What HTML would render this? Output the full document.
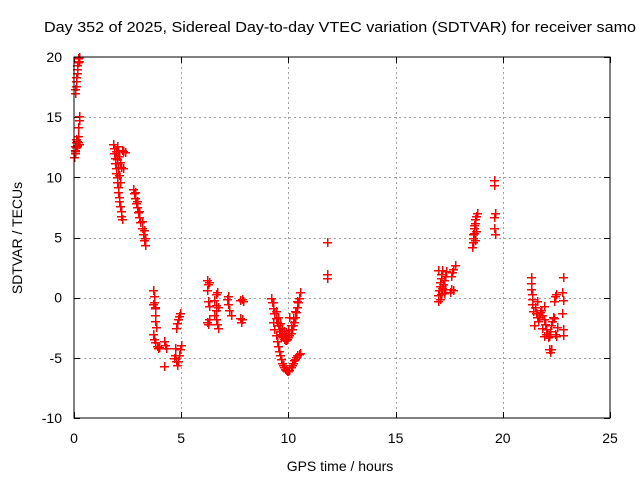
<!DOCTYPE html>
<html><head><meta charset="utf-8"><style>
body{margin:0;background:#fff;}
svg{display:block;font-family:"Liberation Sans",sans-serif;}
</style></head><body>
<svg id="c" width="640" height="480">
<text x="44" y="32" font-size="14.5" textLength="592" lengthAdjust="spacingAndGlyphs">Day 352 of 2025, Sidereal Day-to-day VTEC variation (SDTVAR) for receiver samo</text>
<text transform="translate(22,238) rotate(-90)" text-anchor="middle" font-size="14">SDTVAR / TECUs</text>
<text x="340" y="471" text-anchor="middle" font-size="14">GPS time / hours</text>
<g id="grid"></g><g id="ticks" stroke="#000"></g><g id="pts" fill="#ff0000"></g>
<rect x="74" y="57" width="536" height="361" fill="none" stroke="#000" stroke-width="1"/>
</svg>
<script>
const xTicks=[0,5,10,15,20,25];
const yTicks=[-10,-5,0,5,10,15,20];
const pts=[[0.02,11.7],[0.03,12.0],[0.04,12.3],[0.05,12.6],[0.06,12.2],[0.07,12.9],[0.08,13.2],[0.1,12.5],[0.12,12.7],[0.14,13.0],[0.15,12.6],[0.17,13.4],[0.18,12.9],[0.2,14.2],[0.22,14.8],[0.24,15.1],[0.25,12.8],
[0.03,17.0],[0.05,17.3],[0.07,17.6],[0.08,18.0],[0.1,18.3],[0.12,18.7],[0.14,19.0],[0.16,19.3],[0.18,19.6],[0.2,19.9],[0.22,19.7],[0.24,20.0],
[1.82,12.8],[1.85,12.4],[1.88,12.0],[1.9,11.6],[1.93,11.2],[1.95,10.8],[1.98,10.4],[2.0,10.0],[2.02,9.6],[2.05,9.2],[2.07,8.8],[2.1,8.4],[2.12,8.0],[2.15,7.6],[2.17,7.2],[2.2,6.8],[2.22,6.5],[2.0,12.6],[2.05,12.2],[2.1,11.8],[2.15,11.3],[2.2,10.9],[2.25,12.3],[2.3,12.2],[2.38,12.1],[2.3,10.8],[2.0,11.5],[2.05,10.8],[2.1,10.2],[2.15,9.6],[1.95,12.2],
[2.75,9.0],[2.8,8.7],[2.85,8.3],[2.9,7.9],[2.95,7.5],[3.0,7.1],[3.05,6.7],[3.1,6.3],[3.15,5.8],[3.2,5.3],[3.25,4.8],[3.3,4.4],[2.85,8.8],[2.95,8.0],[3.05,7.2],[3.15,6.4],[3.25,5.6],[3.3,5.0],
[3.7,0.6],[3.72,0.1],[3.74,-0.4],[3.76,-0.9],[3.78,-1.4],[3.8,-1.9],[3.82,-2.4],[3.7,-3.0],[3.75,-3.4],[3.8,-3.7],[3.85,-4.0],[3.9,-4.2],[3.95,-4.1],[4.2,-3.6],[4.25,-3.9],[4.28,-4.2],[4.2,-5.7],[4.75,-2.5],[4.8,-2.1],[4.85,-1.8],[4.9,-1.5],[4.95,-1.3],[4.7,-4.2],[4.72,-4.8],[4.75,-5.3],[4.8,-5.6],[4.85,-5.3],[4.9,-4.8],[4.95,-4.3],[5.0,-3.9],[4.68,-5.0],[3.68,-0.5],[3.8,-0.8],
[6.2,1.5],[6.25,1.1],[6.3,1.3],[6.2,0.6],[6.25,-0.3],[6.3,-0.7],[6.2,-2.0],[6.25,-2.2],[6.3,-1.8],[6.55,-0.2],[6.6,-0.6],[6.62,-1.0],[6.55,-1.4],[6.6,-1.8],[6.65,-2.2],[6.7,-2.5],[6.6,0.3],[6.65,0.5],[6.7,-0.8],[7.15,-0.1],[7.2,-0.5],[7.25,-1.0],[7.3,-1.4],[7.2,0.1],[7.75,-0.2],[7.85,-0.1],[7.9,-0.3],[7.75,-1.7],[7.8,-2.0],[7.85,-1.8],
[9.2,0.0],[9.25,-0.4],[9.3,-0.9],[9.35,-1.3],[9.4,-1.7],[9.45,-2.0],[9.5,-2.3],[9.55,-2.6],[9.6,-2.8],[9.65,-3.0],[9.7,-3.2],[9.75,-3.3],[9.8,-3.4],[9.85,-3.5],[9.9,-3.5],[9.95,-3.4],[10.0,-3.3],[10.05,-3.1],[10.1,-2.9],[10.15,-2.6],[10.2,-2.3],[10.25,-2.0],[10.3,-1.6],[10.35,-1.2],[10.4,-0.8],[10.45,-0.4],[10.5,0.0],[10.55,0.5],
[9.3,-0.4],[9.4,-1.1],[9.5,-1.6],[9.6,-2.1],[9.7,-2.5],[9.8,-2.8],[9.9,-2.9],[10.0,-2.7],[10.1,-2.3],[10.2,-1.7],[10.3,-1.1],[10.4,-0.3],[10.05,-1.6],
[9.3,-2.0],[9.35,-2.6],[9.4,-3.1],[9.45,-3.6],[9.5,-4.0],[9.55,-4.4],[9.6,-4.8],[9.65,-5.1],[9.7,-5.4],[9.75,-5.6],[9.8,-5.8],[9.85,-5.9],[9.9,-6.0],[9.95,-6.1],[10.0,-6.1],[10.05,-6.0],[10.1,-5.8],[10.15,-5.6],[10.2,-5.4],[10.25,-5.2],[10.3,-5.1],[10.35,-4.9],[10.4,-4.8],[10.5,-4.7],[10.55,-4.6],
[11.8,4.6],[11.8,2.0],[11.8,1.6],
[17.0,-0.3],[17.0,0.2],[17.02,0.6],[17.05,1.0],[17.08,1.3],[17.1,1.6],[17.12,2.0],[17.15,2.3],[17.05,-0.1],[17.1,0.3],[17.15,0.8],[17.2,1.1],[17.25,1.5],[17.3,1.8],[17.35,2.2],[17.25,0.4],[17.3,0.7],[17.0,2.3],[17.6,1.8],[17.65,2.1],[17.7,2.4],[17.75,2.7],[17.55,0.5],[17.6,0.7],[17.7,0.6],
[18.55,4.2],[18.6,4.6],[18.62,5.0],[18.65,5.4],[18.68,5.8],[18.7,6.2],[18.72,6.5],[18.75,6.8],[18.78,7.0],[18.6,5.3],[18.65,6.0],[18.7,4.8],[18.75,5.5],
[19.6,9.8],[19.6,9.4],[19.62,7.0],[19.6,6.7],[19.6,5.8],[19.62,5.3],
[21.3,1.7],[21.3,1.2],[21.32,0.7],[21.35,0.3],[21.38,-0.1],[21.35,-0.5],[21.5,-0.8],[21.55,-1.3],[21.6,-1.6],[21.65,-1.9],[21.7,-1.6],[21.75,-1.2],[21.8,-1.0],[21.85,-1.4],[21.9,-1.8],[21.95,-2.2],[22.0,-2.6],[22.05,-3.0],[22.1,-3.3],[22.15,-3.2],[22.2,-2.8],[22.25,-2.3],[22.3,-1.9],[22.35,-1.6],[21.85,-2.5],[21.9,-3.2],[22.0,-3.0],[21.4,-1.1],[21.45,-2.3],[22.15,-4.3],[22.2,-4.5],[22.25,-4.3],[21.6,-0.3],[21.9,-0.7],[22.4,-0.3],[22.45,0.1],[22.5,0.3],[22.45,-3.0],[22.5,-3.2],[22.4,-1.7],[22.8,1.7],[22.75,0.5],[22.8,-0.2],[22.75,-1.3],[22.8,-2.6],[22.8,-3.1],[22.55,-2.4]];
const hours=pts.map(p=>p[0]);
const values=pts.map(p=>p[1]);
const X0=74,X1=610,Y0=418,Y1=57;
const sx=v=>X0+(v-0)/(25-0)*(X1-X0);
const sy=v=>Y0-(v+10)/(30)*(Y0-Y1);
const NS="http://www.w3.org/2000/svg";
const grid=document.getElementById('grid'),ticks=document.getElementById('ticks'),g=document.getElementById('pts');
function mk(tag,a,parent){const e=document.createElementNS(NS,tag);for(const k in a)e.setAttribute(k,a[k]);parent.appendChild(e);return e;}
xTicks.forEach(t=>{const x=Math.round(sx(t))+0.5;
 if(t>0&&t<25){const l=mk('line',{x1:x,x2:x,y1:Y1,y2:Y0,stroke:'#a0a0a0','stroke-dasharray':'2,3'},grid);
 
 }
 mk('line',{x1:x,x2:x,y1:Y0,y2:Y0-6},ticks);mk('line',{x1:x,x2:x,y1:Y1,y2:Y1+6},ticks);
 const tx=mk('text',{x:sx(t),y:443,'text-anchor':'middle','font-size':'14',stroke:'none',fill:'#000'},ticks);tx.textContent=t;
 
 });
yTicks.forEach(t=>{const y=Math.round(sy(t))+0.5;
 if(t>-10&&t<20){const l=mk('line',{x1:X0,x2:X1,y1:y,y2:y,stroke:'#a0a0a0','stroke-dasharray':'2,3'},grid);
 
 }
 mk('line',{x1:X0,x2:X0+6,y1:y,y2:y},ticks);mk('line',{x1:X1,x2:X1-6,y1:y,y2:y},ticks);
 const tx=mk('text',{x:62,y:sy(t)+5,'text-anchor':'end','font-size':'14',stroke:'none',fill:'#000'},ticks);tx.textContent=t;
 
 });
hours.forEach((h,i)=>{const x=Math.round(sx(h)),y=Math.round(sy(values[i]));
 const p=mk('path',{d:`M${x-4},${y}h9v1.5h-9zM${x},${y-4}h1.5v9h-1.5z`},g);
 
 });
</script>
</body></html>
